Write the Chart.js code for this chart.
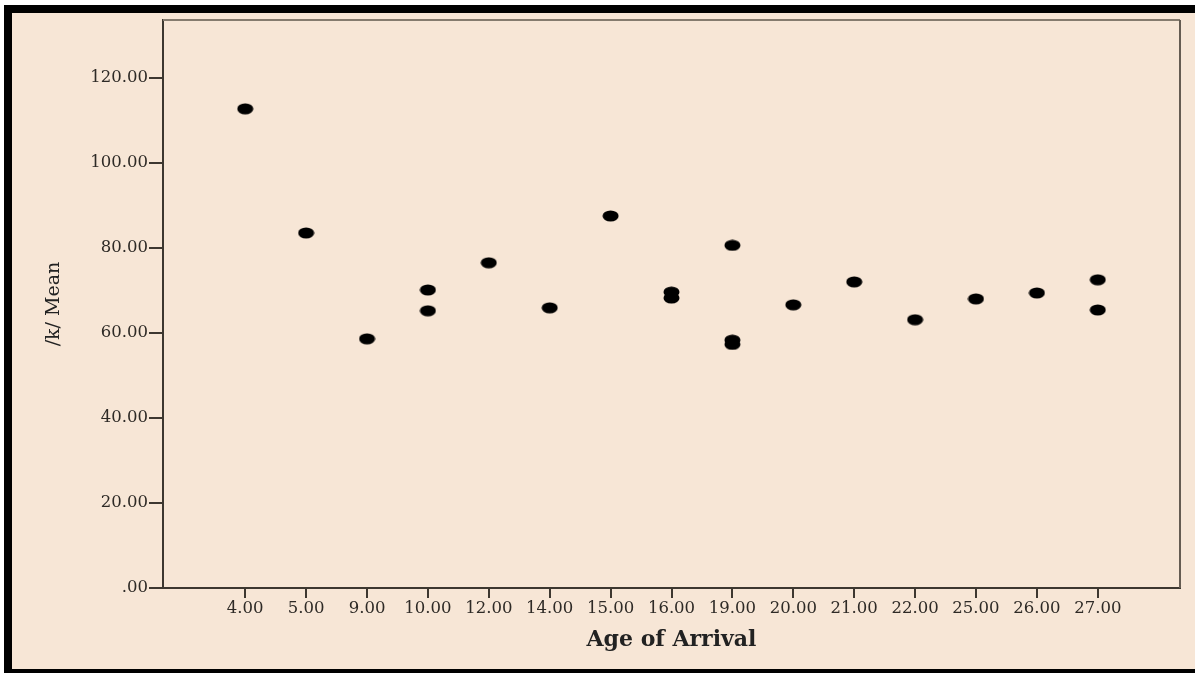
<!DOCTYPE html>
<html>
<head>
<meta charset="utf-8">
<script src="https://cdn.jsdelivr.net/npm/chart.js@4.4.1/dist/chart.umd.min.js"></script>
<style>
  body { margin: 0; background: #fff; }
  #frame {
    position: absolute; left: 4px; top: 5px; width: 1191px; height: 668px;
    box-sizing: border-box; border-left: 8px solid #000; border-top: 8px solid #000;
    border-bottom: 4px solid #000; background: #f7e6d6;
  }
  #wrap { position: absolute; left: 0; top: 0; width: 1195px; height: 673px; }
</style>
</head>
<body>
<div id="frame"></div>
<div id="wrap"><canvas id="chartScatter"></canvas></div>
<script>
// Kategori sumbu X (usia kedatangan)
const categories = ["4.00", "5.00", "9.00", "10.00", "12.00", "14.00", "15.00", "16.00",
  "19.00", "20.00", "21.00", "22.00", "25.00", "26.00", "27.00"];
// Setiap titik: kategori dan nilai rata-rata /k/
const ages = ["4.00", "5.00", "9.00", "10.00", "10.00", "12.00", "14.00", "15.00", "16.00", "16.00",
  "19.00", "19.00", "19.00", "20.00", "21.00", "22.00", "25.00", "26.00", "27.00", "27.00"];
const means = [112.7, 83.5, 58.6, 70.1, 65.2, 76.5, 65.9, 87.5, 69.6, 68.2,
  80.6, 58.3, 57.3, 66.6, 72.0, 63.1, 68.0, 69.4, 72.5, 65.4];
const yTicks = [0, 20, 40, 60, 80, 100, 120];

const axisColor = "#3d3730";

// Titik berbentuk elips
const makeDot = () => {
  const c = document.createElement("canvas");
  c.width = 17;
  c.height = 12;
  const ctx = c.getContext("2d");
  ctx.fillStyle = "#000";
  ctx.beginPath();
  ctx.ellipse(8.5, 6, 8, 5.6, 0, 0, Math.PI * 2);
  ctx.fill();
  return c;
};

const points = [];
for (let i = 0; i < ages.length; i++) {
  points.push({ x: categories.indexOf(ages[i]), y: means[i] });
}

// Garis tepi area plot
const boxPlugin = {
  id: "box",
  beforeDatasetsDraw(chart) {
    const { ctx, chartArea: a } = chart;
    ctx.save();
    ctx.strokeStyle = "#857b6e";
    ctx.lineWidth = 2;
    ctx.beginPath();
    ctx.moveTo(a.left, a.top);
    ctx.lineTo(a.right, a.top);
    ctx.stroke();
    ctx.strokeStyle = "#655c52";
    ctx.beginPath();
    ctx.moveTo(a.right, a.top);
    ctx.lineTo(a.right, a.bottom);
    ctx.stroke();
    ctx.restore();
  },
};

new Chart(document.getElementById("chartScatter"), {
  type: "scatter",
  data: {
    datasets: [{
      data: points,
      pointStyle: makeDot(),
      pointRadius: 6,
      pointHoverRadius: 6,
    }],
  },
  options: {
    responsive: true,
    maintainAspectRatio: false,
    animation: false,
    layout: { padding: { top: 20, right: 15, left: 0, bottom: 0 } },
    plugins: { legend: { display: false }, tooltip: { enabled: false } },
    scales: {
      x: {
        type: "linear",
        min: -1.35,
        max: 15.35,
        afterBuildTicks: (s) => { s.ticks = categories.map((c, i) => ({ value: i })); },
        afterFit: (s) => { s.height = 85; },
        ticks: {
          callback: (v) => categories[v],
          color: "#2e2a26",
          font: { family: "DejaVu Serif", size: 16.5 },
          padding: 1,
          maxRotation: 0,
          autoSkip: false,
        },
        grid: { drawOnChartArea: false, drawTicks: true, tickLength: 10, tickColor: axisColor, lineWidth: 2 },
        border: { display: true, color: axisColor, width: 2 },
        title: {
          display: true,
          text: "Age of Arrival",
          color: "#222",
          font: { family: "DejaVu Serif", size: 22, weight: "bold" },
          padding: { top: 4, bottom: 20 },
        },
      },
      y: {
        min: 0,
        max: 133.6,
        afterBuildTicks: (s) => { s.ticks = yTicks.map((v) => ({ value: v })); },
        afterFit: (s) => { s.width = 163; },
        ticks: {
          callback: (v) => (v === 0 ? ".00" : v.toFixed(2)),
          color: "#2e2a26",
          font: { family: "DejaVu Serif", size: 16.5 },
          padding: 1,
        },
        grid: { drawOnChartArea: false, drawTicks: true, tickLength: 14, tickColor: axisColor, lineWidth: 2 },
        border: { display: true, color: axisColor, width: 2 },
        title: {
          display: true,
          text: "/k/ Mean",
          color: "#222",
          font: { family: "DejaVu Serif", size: 19 },
          padding: { top: 43, bottom: 0 },
        },
      },
    },
  },
  plugins: [boxPlugin],
});
</script>
</body>
</html>
